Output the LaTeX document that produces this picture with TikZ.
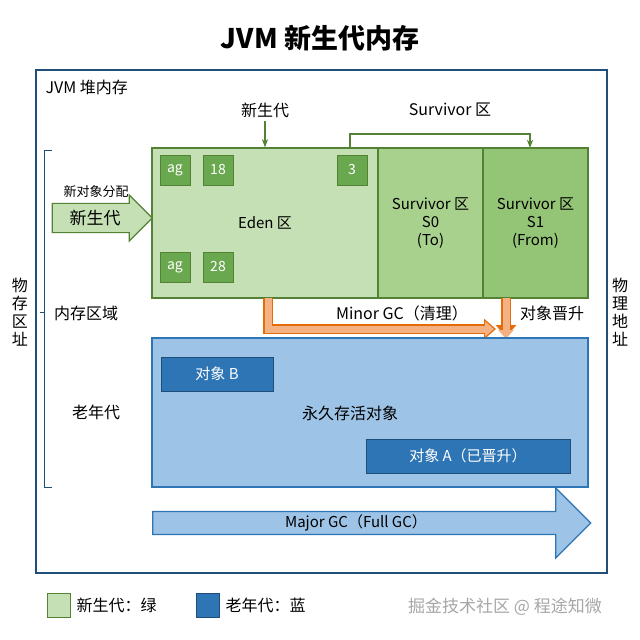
\documentclass[tikz,border=0pt]{standalone}
\usepackage{fontspec}
\setmainfont{Noto Sans CJK SC}
\usetikzlibrary{positioning}
\usetikzlibrary{shapes.arrows}
\usetikzlibrary{arrows.meta}

\definecolor{edenfill}{HTML}{C5E0B4}
\definecolor{sfill}{HTML}{A9D18E}
\definecolor{sfillb}{HTML}{94C475}
\definecolor{greenline}{HTML}{548235}
\definecolor{tagfill}{HTML}{6AA84F}
\definecolor{oldfill}{HTML}{9DC3E6}
\definecolor{objfill}{HTML}{2E75B6}
\definecolor{frameblue}{HTML}{1F4E79}
\definecolor{orangeL}{HTML}{F4B183}
\definecolor{orangeD}{HTML}{E46C0A}

\tikzset{
	region/.style={draw=greenline, line width=1.2pt, minimum height=150pt, inner sep=0pt, font=\fontsize{15}{18}\selectfont},
	tag/.style={draw=greenline, fill=tagfill, text=white, minimum size=30pt, inner sep=0pt, font=\fontsize{14}{15}\selectfont},
	obj/.style={draw=frameblue, fill=objfill, text=white, minimum height=34pt, inner sep=0pt, font=\fontsize{15}{16}\selectfont},
	lbl/.style={font=\fontsize{16}{18}\selectfont},
}

\begin{document}
\begin{tikzpicture}[x=1pt, y=-1pt]

	\useasboundingbox (0,0) rectangle (640,640);

	% title
	\node[font=\fontsize{27}{30}\selectfont\bfseries] (title) at (320,38) {JVM 新生代内存};

	% heap frame
	\draw[frameblue, line width=1.2pt] (36,70) rectangle (607,573);
	\node[lbl, anchor=west] (heap) at (42,87) {JVM 堆内存};

	% left brace
	\draw[frameblue, line width=1pt] (52,150) -- (44,150) -- (44,487) -- (52,487);
	\draw[frameblue, line width=1pt] (44,312) -- (40,312);
	\node[lbl, align=center] (phys) at (20,312) {物\\存\\区\\址};
	\node[lbl, align=center] (physR) at (620,312) {物\\理\\地\\址};

	% young generation
	\node[region, fill=edenfill, minimum width=226pt] (eden) at (265,223) {Eden 区};
	\node[region, fill=sfill, minimum width=105pt, align=center] (s0) at (430.5,223) {Survivor 区\\S0\\(To)};
	\node[region, fill=sfillb, minimum width=105pt, align=center] (s1) at (535.5,223) {Survivor 区\\S1\\(From)};

	\node[tag] (t1) at (175,170) {ag};
	\node[tag] (t2) at (218,170) {18};
	\node[tag] (t3) at (352,170) {3};
	\node[tag] (t4) at (175,267) {ag};
	\node[tag] (t5) at (218,267) {28};

	\node[lbl] (young) at (265,110) {新生代};
	\draw[greenline, line width=1.2pt, -{Stealth}] (young) -- (eden.north);
	\node[lbl] (surv) at (450,110) {Survivor 区};
	\coordinate (sA) at (350,148);
	\coordinate (sB) at (530,148);
	\draw[greenline, line width=1.2pt, -{Stealth}] (sA) -- (350,134) -- (530,134) -- (sB);

	% allocation arrow
	\node[single arrow, draw=greenline, fill=edenfill, line width=1.2pt, minimum width=46pt, minimum height=100pt,
		single arrow head extend=6pt, inner sep=2pt, font=\fontsize{17}{18}\selectfont] (alloc) at (95,218) {新生代\hspace{18pt}};
	\node[font=\fontsize{13}{14}\selectfont] (allocT) at (96,192) {新对象分配};

	% minor gc
	\coordinate (m1) at (268,298);
	\coordinate (m2) at (496,329);
	\coordinate (p1) at (506,298);
	\coordinate (p2) at (506,337);
	\draw[orangeD, line width=10pt, -{Triangle[length=12pt,width=20pt]}] (m1) -- (268,329) -- (m2);
	\draw[orangeL, line width=7pt, -{Triangle[length=9pt,width=15pt]}] (m1) -- (268,329) -- ([xshift=-2pt]m2);
	\draw[orangeD, line width=10pt, -{Triangle[length=12pt,width=20pt]}] (p1) -- (p2);
	\draw[orangeL, line width=7pt, -{Triangle[length=9pt,width=15pt]}] (p1) -- ([yshift=-2pt]p2);
	\node[lbl] (minor) at (402,313) {Minor GC（清理）};
	\node[lbl] (promo) at (552,313) {对象晋升};

	\node[lbl] (area) at (86,313) {内存区域};
	\node[lbl] (oldL) at (96,412) {老年代};

	% old generation
	\draw[draw=objfill, fill=oldfill, line width=1.2pt] (152,338) rectangle (588,487);
	\node[obj, minimum width=112pt] (objB) at (217,374) {对象 B};
	\node[font=\fontsize{16}{17}\selectfont] (perm) at (350,413) {永久存活对象};
	\node[obj, minimum width=204pt] (objA) at (468,456) {对象 A（已晋升）};

	% major gc
	\node[single arrow, draw=objfill, fill=oldfill, line width=1.2pt, minimum width=70pt, minimum height=438pt,
		single arrow head extend=18pt, single arrow tip angle=90, inner sep=0pt, font=\fontsize{15}{16}\selectfont] (major) at (366,523) {\hspace{-20pt}Major GC（Full GC）};

	% legend
	\draw[greenline, fill=edenfill, line width=1pt] (47,593) rectangle (70,617);
	\node[lbl, anchor=west] (legG) at (73,605) {新生代：绿};
	\draw[frameblue, fill=objfill, line width=1pt] (196,593) rectangle (219,617);
	\node[lbl, anchor=west] (legB) at (222,605) {老年代：蓝};
	\node[font=\fontsize{17}{19}\selectfont, text=gray!70] (wm) at (505,607) {掘金技术社区 @ 程途知微};

\end{tikzpicture}
\end{document}
